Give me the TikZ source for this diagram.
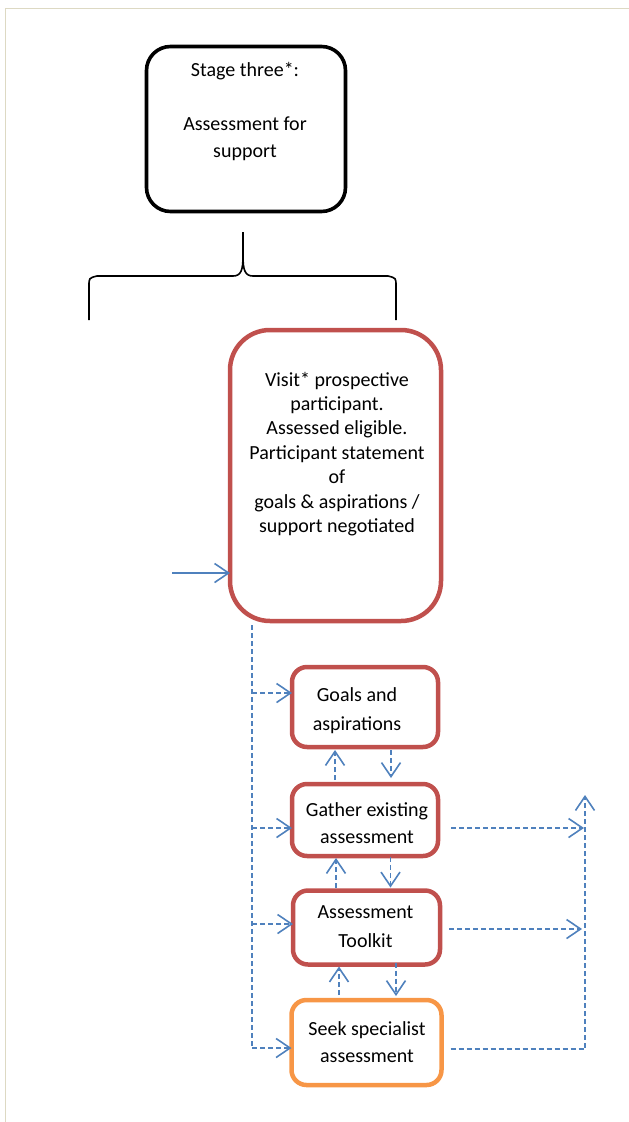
\documentclass[tikz,border=0pt]{standalone}
\usepackage{fontspec}
\setmainfont{Carlito}
\usetikzlibrary{arrows.meta,calc}
\definecolor{frameC}{HTML}{DDD9C3}
\definecolor{redC}{HTML}{C0504D}
\definecolor{orangeC}{HTML}{F79646}
\definecolor{blueC}{HTML}{4F81BD}
\tikzset{
  box/.style={draw, rectangle, inner sep=0pt, outer sep=0pt},
  blackbox/.style={box, line width=3.6pt, rounded corners=24pt, draw=black},
  redbox/.style={box, line width=4.5pt, draw=redC},
  orangebox/.style={box, line width=4.5pt, draw=orangeC, rounded corners=15pt},
  txt/.style={align=center, inner sep=0pt},
  tip/.style={-{Straight Barb[length=14pt,width=19pt,line width=1.6pt]}},
  dasharrow/.style={tip, draw=blueC, line width=1.6pt, dash pattern=on 5pt off 3pt},
  dashline/.style={draw=blueC, line width=1.6pt, dash pattern=on 5pt off 3pt},
  solidarrow/.style={tip, draw=blueC, line width=1.8pt},
  brace/.style={draw=black, line width=1.6pt}
}
\begin{document}
\begin{tikzpicture}[x=1pt,y=-1pt]
\useasboundingbox (0,0) rectangle (629,1122);
% page frame
\draw[frameC, line width=1.2pt] (629,8.5) -- (5.5,8.5) -- (5.5,1122);

% boxes
\node[blackbox, minimum width=199pt, minimum height=165pt] (stage) at (246,129) {};
\node[txt, font=\fontsize{20}{27}\selectfont] (stagetxt) at (245,112) {Stage three*:\\[27pt]Assessment for\\support};

% brace
\draw[brace] (89,320) -- (89,286) .. controls (89,278) .. (97,276) -- (233,276)
  .. controls (241,276) and (243,270) .. (243,256) -- (243,232);
\draw[brace] (396,320) -- (396,286) .. controls (396,278) .. (388,276) -- (253,276)
  .. controls (245,276) and (243,270) .. (243,256);

\node[redbox, rounded corners=40pt, minimum width=211pt, minimum height=291pt] (visit) at (335.5,475.5) {};
\node[txt, font=\fontsize{20}{24.4}\selectfont] (visittxt) at (337,454)
  {Visit* prospective\\participant.\\Assessed eligible.\\Participant statement\\of\\goals \& aspirations /\\support negotiated};

\node[redbox, rounded corners=15pt, minimum width=146pt, minimum height=80pt] (goals) at (365,707) {};
\node[txt, font=\fontsize{20}{29}\selectfont] (goalstxt) at (357,710.5) {Goals and\\aspirations};

\node[redbox, rounded corners=15pt, minimum width=146pt, minimum height=72pt] (gather) at (365,820) {};
\node[txt, font=\fontsize{20}{27}\selectfont] (gathertxt) at (367,823.5) {Gather existing\\assessment};

\node[redbox, rounded corners=15pt, minimum width=147pt, minimum height=74pt] (toolkit) at (366.5,927.5) {};
\node[txt, font=\fontsize{20}{29}\selectfont] (toolkittxt) at (365.5,926.5) {Assessment\\Toolkit};

\node[orangebox, minimum width=150pt, minimum height=85pt] (seek) at (366.5,1042.5) {};
\node[txt, font=\fontsize{20}{27}\selectfont] (seektxt) at (367,1042.5) {Seek specialist\\assessment};

% input arrow
\coordinate (inp) at (172,573);
\draw[solidarrow] (inp) -- (inp -| visit.west);

% trunk
\coordinate (trunktop) at (252,625);
\coordinate (bgoals) at (252,693);
\coordinate (bgather) at (252,828);
\coordinate (btool) at (252,924);
\coordinate (bseek) at (252,1048);
\draw[dashline] (trunktop) -- (bseek);
\draw[dasharrow] (bgoals) -- (bgoals -| goals.west);
\draw[dasharrow] (bgather) -- (bgather -| gather.west);
\draw[dasharrow] (btool) -- (btool -| toolkit.west);
\draw[dasharrow] (bseek) -- (bseek -| seek.west);

% between boxes
\draw[dasharrow, shorten <=4pt, shorten >=3pt] ([xshift=-30pt]gather.north) -- ([xshift=-30pt]gather.north |- goals.south);
\draw[dasharrow, shorten <=3pt, shorten >=6pt] ([xshift=26pt]goals.south) -- ([xshift=26pt]goals.south |- gather.north);
\draw[dasharrow, shorten <=3pt, shorten >=2pt] ([xshift=-30.5pt]toolkit.north) -- ([xshift=-30.5pt]toolkit.north |- gather.south);
\draw[dasharrow, shorten <=1pt, shorten >=3pt] ([xshift=25.5pt]gather.south) -- ([xshift=25.5pt]gather.south |- toolkit.north);
\draw[dasharrow, shorten <=5pt, shorten >=2pt] ([xshift=-27.5pt]seek.north) -- ([xshift=-27.5pt]seek.north |- toolkit.south);
\draw[dasharrow, shorten <=-2pt, shorten >=4pt] ([xshift=29.5pt]toolkit.south) -- ([xshift=29.5pt]toolkit.south |- seek.north);

% right collector
\coordinate (rgather) at (584,828);
\coordinate (rtool) at (582,929);
\coordinate (rseek) at (585,1049);
\coordinate (rtop) at (585,795);
\draw[dasharrow, shorten <=13pt] (rgather -| gather.east) -- (rgather);
\draw[dasharrow, shorten <=9pt] (rtool -| toolkit.east) -- (rtool);
\draw[dasharrow, shorten <=9pt] (rseek -| seek.east) -- (rseek) -- (rtop);
\end{tikzpicture}
\end{document}
